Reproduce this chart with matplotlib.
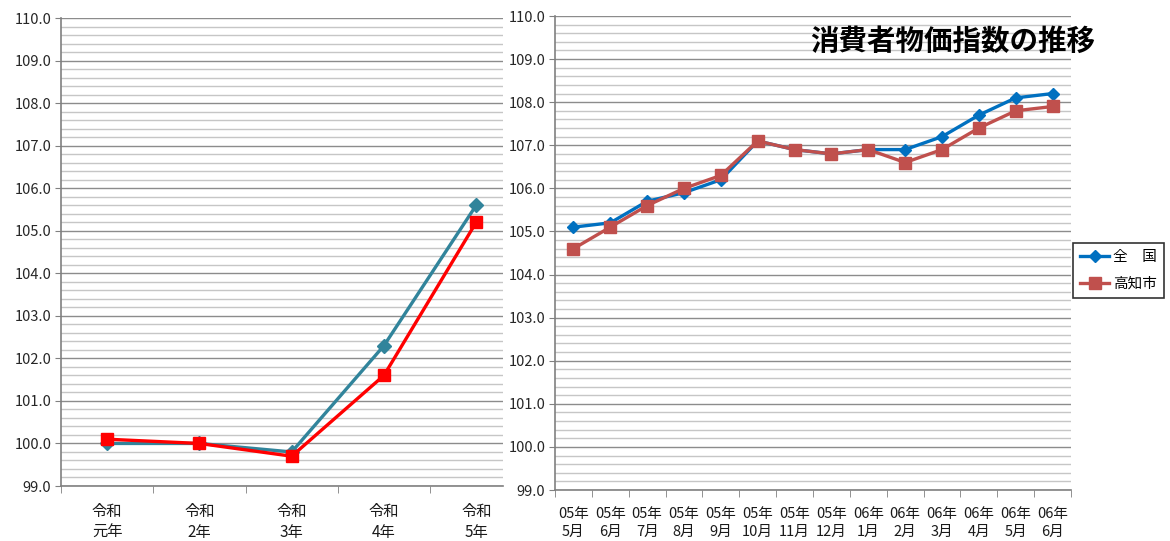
import numpy as np
import matplotlib
matplotlib.use('Agg')
import matplotlib.pyplot as plt
from matplotlib.ticker import MultipleLocator, FixedLocator, FormatStrFormatter

plt.rcParams['font.family'] = ['Noto Sans CJK JP', 'DejaVu Sans']

# 年平均
years = ['令和\n元年', '令和\n2年', '令和\n3年', '令和\n4年', '令和\n5年']
annual_national = [100.0, 100.0, 99.8, 102.3, 105.6]
annual_kochi = [100.1, 100.0, 99.7, 101.6, 105.2]

# 月次
months = ['05年\n5月', '05年\n6月', '05年\n7月', '05年\n8月', '05年\n9月',
          '05年\n10月', '05年\n11月', '05年\n12月', '06年\n1月', '06年\n2月',
          '06年\n3月', '06年\n4月', '06年\n5月', '06年\n6月']
monthly_national = [105.1, 105.2, 105.7, 105.9, 106.2, 107.1, 106.9,
                    106.8, 106.9, 106.9, 107.2, 107.7, 108.1, 108.2]
monthly_kochi = [104.6, 105.1, 105.6, 106.0, 106.3, 107.1, 106.9,
                 106.8, 106.9, 106.6, 106.9, 107.4, 107.8, 107.9]

W, H = 1170, 541
fig = plt.figure(figsize=(W / 100, H / 100), dpi=100)
ax1 = fig.add_axes([61 / W, 1 - 486 / H, (503 - 61) / W, (486 - 18) / H])
ax2 = fig.add_axes([555 / W, 1 - 490 / H, (1071 - 555) / W, (490 - 16) / H])


def style(ax, labels, xmax, xsize):
    n = len(labels)
    ax.set_ylim(99, 110)
    ax.set_xlim(-0.5, xmax)
    ax.yaxis.set_major_locator(MultipleLocator(1))
    ax.yaxis.set_minor_locator(MultipleLocator(0.2))
    ax.yaxis.set_major_formatter(FormatStrFormatter('%.1f'))
    ax.grid(axis='y', which='major', color='#8c8c8c', lw=1)
    ax.grid(axis='y', which='minor', color='#c6c6c6', lw=1)
    ax.set_axisbelow(True)
    ax.tick_params(axis='y', which='major', length=4, color='#808080',
                   labelsize=10.5, labelcolor='#262626', pad=3)
    ax.tick_params(axis='y', which='minor', length=0)
    ax.set_xticks(range(n))
    ax.set_xticklabels(labels, linespacing=1.35)
    ax.xaxis.set_minor_locator(FixedLocator(np.arange(-0.5, n, 1)))
    ax.tick_params(axis='x', which='major', length=0, pad=12,
                   labelsize=xsize, labelcolor='#1a1a1a')
    ax.tick_params(axis='x', which='minor', length=5, color='#808080')
    for s in ('top', 'right'):
        ax.spines[s].set_visible(False)
    for s in ('left', 'bottom'):
        ax.spines[s].set_color('#808080')
        ax.spines[s].set_linewidth(1.2)


style(ax1, years, 4.29, 11)
style(ax2, months, 13.5, 10.5)

x1 = np.arange(len(years))
ax1.plot(x1, annual_national, color='#31849b', lw=2.4, marker='D',
         ms=7, clip_on=False, zorder=3)
ax1.plot(x1, annual_kochi, color='#ff0000', lw=2.4, marker='s',
         ms=8.5, clip_on=False, zorder=4)

x2 = np.arange(len(months))
ax2.plot(x2, monthly_national, color='#0070c0', lw=2.4, marker='D',
         ms=6.5, label='全\u3000国', zorder=3)
ax2.plot(x2, monthly_kochi, color='#c0504d', lw=2.4, marker='s',
         ms=8, label='高知市', zorder=4)

ax2.text(0.77, 0.945, '消費者物価指数の推移', transform=ax2.transAxes,
         ha='center', va='center', fontsize=20.5, fontweight='bold',
         color='black')

leg = fig.legend(loc='upper left', bbox_to_anchor=(1073 / W, 1 - 243 / H),
                 fontsize=10.5, frameon=True, fancybox=False,
                 edgecolor='black', handlelength=2.0, handletextpad=0.25,
                 borderpad=0.5, labelspacing=0.85, borderaxespad=0)
leg.get_frame().set_linewidth(1.2)

fig.savefig('out.png', dpi=100, facecolor='white')
